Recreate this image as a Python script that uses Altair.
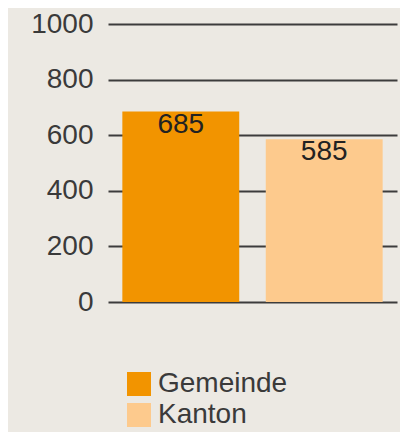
import altair as alt
import pandas as pd

categories = ["Gemeinde", "Kanton"]
values = [685, 585]
colors = ["#f29400", "#fdca8d"]
y_ticks = [0, 200, 400, 600, 800, 1000]

df = pd.DataFrame({"cat": categories, "val": values})

base = alt.Chart(df).encode(
    x=alt.X("cat:N", axis=None, sort=categories,
            scale=alt.Scale(paddingInner=0.185, paddingOuter=0.1)),
)

bars = base.mark_bar().encode(
    y=alt.Y("val:Q", scale=alt.Scale(domain=[0, 1000]),
            axis=alt.Axis(values=y_ticks, format="d", title=None, domain=False, ticks=False,
                          grid=True, gridColor="#3c3c3c", gridWidth=2, gridOpacity=1,
                          labelFontSize=28, labelColor="#3a3a3a", labelPadding=15,
                          labelFont="Liberation Sans")),
    color=alt.Color("cat:N", sort=categories,
                    scale=alt.Scale(domain=categories, range=colors),
                    legend=alt.Legend(title=None, orient="none", legendX=17, legendY=346,
                                      symbolType="square", symbolSize=576,
                                      symbolStrokeWidth=0, symbolOpacity=1,
                                      labelFontSize=28, labelFont="Liberation Sans",
                                      labelColor="#3a3a3a", labelOffset=5,
                                      rowPadding=3, padding=0)),
)

labels = base.mark_text(baseline="middle", dy=13, fontSize=28,
                        font="Liberation Sans", color="#222222").encode(
    y=alt.Y("val:Q"),
    text=alt.Text("val:Q"),
)

chart = alt.layer(bars, labels).properties(
    width=289, height=278,
    autosize=alt.AutoSizeParams(type="none"),
    padding={"left": 100, "top": 16, "right": 3, "bottom": 130},
    background="#ece9e3",
).configure_view(stroke=None)

chart.save("out.html", embed_options={"renderer": "svg", "actions": False})
